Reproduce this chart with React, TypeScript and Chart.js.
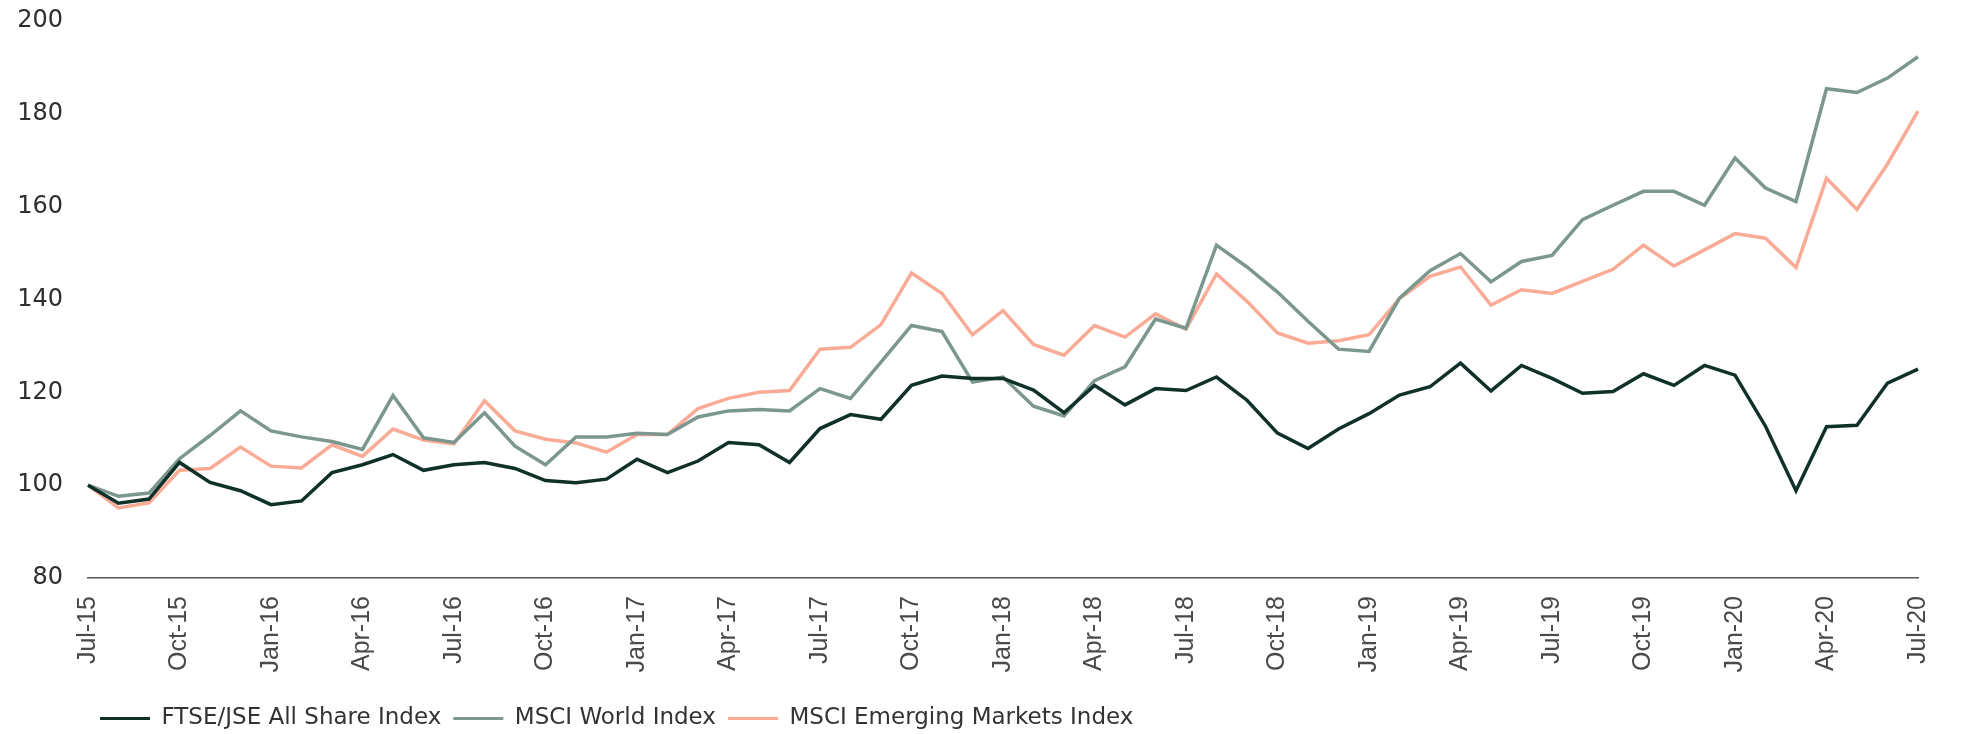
import React, { useEffect, useRef } from "react";
import { Chart, registerables } from "chart.js";

Chart.register(...registerables);

const categories: string[] = [
  "Jul-15", "Aug-15", "Sep-15", "Oct-15", "Nov-15", "Dec-15",
  "Jan-16", "Feb-16", "Mar-16", "Apr-16", "May-16", "Jun-16",
  "Jul-16", "Aug-16", "Sep-16", "Oct-16", "Nov-16", "Dec-16",
  "Jan-17", "Feb-17", "Mar-17", "Apr-17", "May-17", "Jun-17",
  "Jul-17", "Aug-17", "Sep-17", "Oct-17", "Nov-17", "Dec-17",
  "Jan-18", "Feb-18", "Mar-18", "Apr-18", "May-18", "Jun-18",
  "Jul-18", "Aug-18", "Sep-18", "Oct-18", "Nov-18", "Dec-18",
  "Jan-19", "Feb-19", "Mar-19", "Apr-19", "May-19", "Jun-19",
  "Jul-19", "Aug-19", "Sep-19", "Oct-19", "Nov-19", "Dec-19",
  "Jan-20", "Feb-20", "Mar-20", "Apr-20", "May-20", "Jun-20",
  "Jul-20",
];

const ftseJse: number[] = [
  100, 96.1, 97.0, 104.9, 100.6, 98.8, 95.8, 96.6, 102.7, 104.4, 106.6, 103.2, 104.4,
  104.9, 103.6, 101.0, 100.5, 101.3, 105.6, 102.7, 105.2, 109.2, 108.7, 104.9, 112.2, 115.2, 114.2, 121.5, 123.5,
  123.0, 123.0, 120.5, 115.6, 121.5, 117.3, 120.8, 120.4, 123.3, 118.3, 111.2, 107.9, 112.1, 115.4, 119.4, 121.2,
  126.3, 120.3, 125.8, 123.0, 119.8, 120.2, 124.0, 121.5, 125.8, 123.7, 112.7, 98.8, 112.6, 112.9, 122.0, 125.0,
];

const msciWorld: number[] = [
  100, 97.6, 98.3, 105.7, 110.7, 116.0, 111.7, 110.4, 109.4, 107.7, 119.3, 110.2, 109.2,
  115.6, 108.4, 104.4, 110.4, 110.4, 111.2, 110.9, 114.7, 116.0, 116.3, 116.0, 120.8, 118.7, 126.5, 134.4, 133.1,
  122.2, 123.3, 117.0, 114.9, 122.5, 125.5, 135.8, 133.8, 151.7, 147.0, 141.6, 135.3, 129.3, 128.8, 140.3, 146.2,
  149.9, 143.8, 148.2, 149.5, 157.2, 160.3, 163.3, 163.3, 160.3, 170.5, 164.0, 161.1, 185.4, 184.6, 187.7, 192.3,
];

const msciEm: number[] = [
  100, 95.1, 96.2, 103.2, 103.6, 108.2, 104.1, 103.7, 108.7, 106.2, 112.1, 109.7, 108.9,
  118.2, 111.7, 109.9, 109.1, 107.1, 110.9, 110.9, 116.5, 118.7, 120.0, 120.4, 129.3, 129.7, 134.6, 145.7, 141.3,
  132.4, 137.6, 130.3, 128.0, 134.4, 131.9, 136.9, 133.6, 145.5, 139.6, 132.8, 130.6, 131.1, 132.4, 140.2, 145.0,
  147.0, 138.8, 142.1, 141.3, 143.9, 146.5, 151.7, 147.2, 150.7, 154.2, 153.2, 146.9, 166.1, 159.4, 169.2, 180.6,
];

const seriesNames: string[] = [
  "FTSE/JSE All Share Index",
  "MSCI World Index",
  "MSCI Emerging Markets Index",
];

const seriesColors: string[] = ["#10302a", "#7b978e", "#f9ab96"];

const yTicks = { min: 80, max: 200, step: 20 };
const xTickEvery = 3;

export default function App() {
  const canvasRef = useRef<HTMLCanvasElement | null>(null);

  useEffect(() => {
    document.body.style.margin = "0";
    const canvas = canvasRef.current;
    if (!canvas) return;
    const seriesData = [ftseJse, msciWorld, msciEm];
    const chart = new Chart(canvas, {
      type: "line",
      data: {
        labels: categories,
        datasets: seriesNames.map((name, i) => ({
          label: name,
          data: seriesData[i],
          borderColor: seriesColors[i],
          backgroundColor: seriesColors[i],
          borderWidth: 3.5,
          pointRadius: 0,
          pointHoverRadius: 0,
          tension: 0,
          fill: false,
        })),
      },
      options: {
        animation: false,
        responsive: false,
        maintainAspectRatio: false,
        layout: { padding: { top: 21, right: 33, bottom: -6, left: 0 } },
        plugins: {
          tooltip: { enabled: false },
          legend: {
            display: true,
            position: "bottom",
            align: "start",
            fullSize: false,
            labels: {
              boxWidth: 50,
              boxHeight: 3,
              padding: 12,
              color: "#333333",
              font: { family: "'DejaVu Sans', sans-serif", size: 23 },
              generateLabels: (ch: any) =>
                ch.data.datasets.map((ds: any, i: number) => ({
                  text: ds.label,
                  fillStyle: ds.borderColor,
                  strokeStyle: ds.borderColor,
                  lineWidth: 0,
                  hidden: false,
                  datasetIndex: i,
                  fontColor: "#333333",
                })),
            },
          },
        },
        scales: {
          x: {
            type: "category",
            grid: { display: false, drawTicks: false },
            border: { display: true, color: "#555555", width: 1.5 },
            afterFit: (s: any) => {
              s.height = 117;
            },
            ticks: {
              autoSkip: false,
              minRotation: 90,
              maxRotation: 90,
              padding: 18,
              color: "#4a4a4a",
              font: { family: "'Liberation Sans', Arial, sans-serif", size: 25 },
              callback: (_v: any, index: number) =>
                index % xTickEvery === 0 ? categories[index] : "",
            },
          },
          y: {
            min: yTicks.min,
            max: yTicks.max,
            grid: { display: false, drawTicks: false },
            border: { display: false },
            afterFit: (s: any) => {
              s.width = 88;
              s.paddingTop = 0;
              s.paddingBottom = 0;
            },
            ticks: {
              stepSize: yTicks.step,
              padding: 25,
              color: "#2e2e2e",
              font: { family: "'DejaVu Sans', sans-serif", size: 24 },
            },
          },
        },
      },
    });
    return () => chart.destroy();
  }, []);

  return (
    <div style={{ width: 1966, height: 734, position: "relative" }}>
      <canvas ref={canvasRef} width={1966} height={734} style={{ display: "block" }} />
    </div>
  );
}
